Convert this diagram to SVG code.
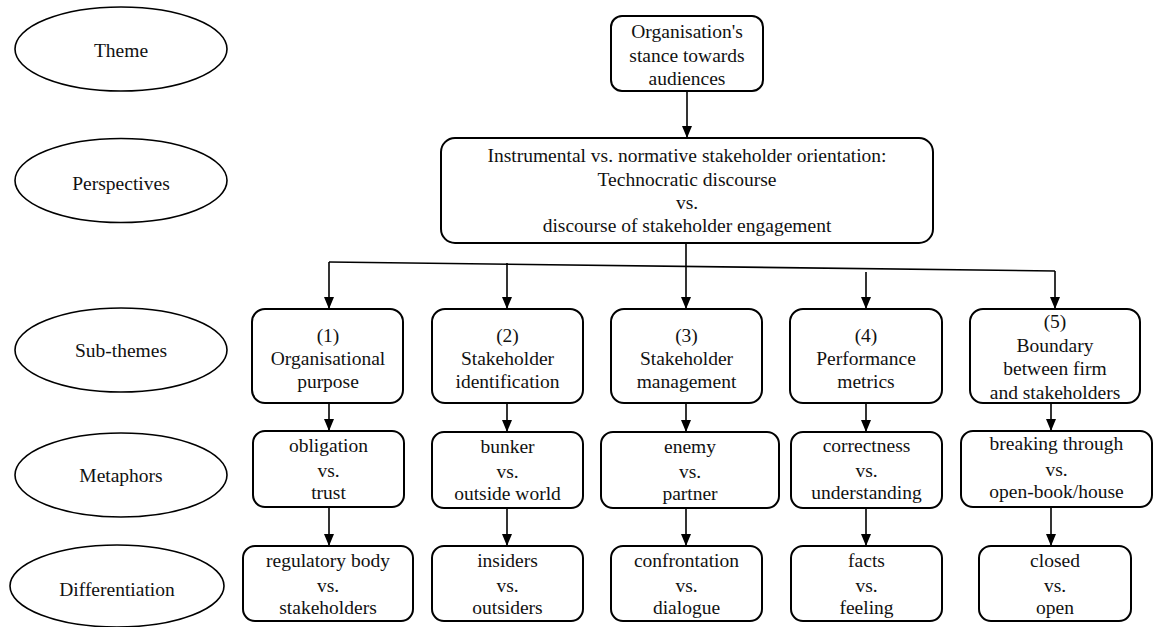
<svg xmlns="http://www.w3.org/2000/svg" width="1154" height="627" viewBox="0 0 1154 627">
  <defs>
    <marker id="arrow" markerUnits="userSpaceOnUse" markerWidth="12" markerHeight="10" refX="12" refY="5" orient="auto">
      <path d="M0,0 L12,5 L0,10 z" fill="#000"/>
    </marker>
    <style>
      text { font-family: 'Liberation Serif', 'DejaVu Serif', serif; font-size: 19.5px; fill: #111; text-anchor: middle; }
      .box { fill: #fff; stroke: #000; stroke-width: 2; }
      .lvl { fill: #fff; stroke: #000; stroke-width: 1.6; }
      .edge { fill: none; stroke: #000; stroke-width: 1.6; }
      .arr { fill: none; stroke: #000; stroke-width: 1.6; marker-end: url(#arrow); }
    </style>
  </defs>
  <rect width="1154" height="627" fill="#fff"/>

  <!-- level labels -->
  <g id="level-theme"><ellipse class="lvl" cx="121" cy="49" rx="106" ry="42"/><text x="121" y="57">Theme</text></g>
  <g id="level-perspectives"><ellipse class="lvl" cx="121" cy="180.5" rx="106" ry="42"/><text x="121" y="190">Perspectives</text></g>
  <g id="level-subthemes"><ellipse class="lvl" cx="121" cy="350" rx="106" ry="42"/><text x="121" y="357">Sub-themes</text></g>
  <g id="level-metaphors"><ellipse class="lvl" cx="121" cy="475" rx="106" ry="42"/><text x="121" y="482">Metaphors</text></g>
  <g id="level-differentiation"><ellipse class="lvl" cx="117" cy="586" rx="107" ry="41"/><text x="117" y="596">Differentiation</text></g>

  <!-- connectors -->
  <g id="connectors">
    <line class="arr" x1="687" y1="91" x2="687" y2="138"/>
    <polyline class="edge" points="329,262 1055,271"/>
    <line class="arr" x1="329" y1="262" x2="329" y2="309"/>
    <line class="arr" x1="507" y1="263" x2="507" y2="309"/>
    <line class="arr" x1="686" y1="243" x2="686" y2="309"/>
    <line class="arr" x1="866" y1="272" x2="866" y2="309"/>
    <line class="arr" x1="1055" y1="271" x2="1055" y2="309"/>

    <line class="arr" x1="329" y1="403" x2="329" y2="431"/>
    <line class="arr" x1="507" y1="403" x2="507" y2="432"/>
    <line class="arr" x1="686" y1="403" x2="686" y2="432"/>
    <line class="arr" x1="866" y1="403" x2="866" y2="432"/>
    <line class="arr" x1="1051" y1="403" x2="1051" y2="431"/>

    <line class="arr" x1="329" y1="507" x2="329" y2="546"/>
    <line class="arr" x1="507" y1="508" x2="507" y2="546"/>
    <line class="arr" x1="686" y1="508" x2="686" y2="546"/>
    <line class="arr" x1="866" y1="508" x2="866" y2="546"/>
    <line class="arr" x1="1051" y1="507" x2="1051" y2="546"/>
  </g>

  <!-- theme -->
  <g id="theme">
    <rect class="box" x="611" y="16" width="152" height="75" rx="11"/>
    <text x="687" y="38">Organisation's</text>
    <text x="687" y="62">stance towards</text>
    <text x="687" y="85">audiences</text>
  </g>

  <!-- perspectives -->
  <g id="perspectives">
    <rect class="box" x="441" y="138" width="492" height="105" rx="14"/>
    <text x="687" y="162">Instrumental vs. normative stakeholder orientation:</text>
    <text x="687" y="186">Technocratic discourse</text>
    <text x="687" y="209">vs.</text>
    <text x="687" y="232">discourse of stakeholder engagement</text>
  </g>

  <!-- sub-themes -->
  <g id="sub1">
    <rect class="box" x="252" y="309" width="151" height="94" rx="13"/>
    <text x="328" y="342">(1)</text>
    <text x="328" y="365">Organisational</text>
    <text x="328" y="388">purpose</text>
  </g>
  <g id="sub2">
    <rect class="box" x="432" y="309" width="151" height="94" rx="13"/>
    <text x="507.5" y="342">(2)</text>
    <text x="507.5" y="365">Stakeholder</text>
    <text x="507.5" y="388">identification</text>
  </g>
  <g id="sub3">
    <rect class="box" x="611" y="309" width="151" height="94" rx="13"/>
    <text x="686.5" y="342">(3)</text>
    <text x="686.5" y="365">Stakeholder</text>
    <text x="686.5" y="388">management</text>
  </g>
  <g id="sub4">
    <rect class="box" x="790" y="309" width="152" height="94" rx="13"/>
    <text x="866" y="342">(4)</text>
    <text x="866" y="365">Performance</text>
    <text x="866" y="388">metrics</text>
  </g>
  <g id="sub5">
    <rect class="box" x="970" y="309" width="170" height="94" rx="13"/>
    <text x="1055" y="328">(5)</text>
    <text x="1055" y="352">Boundary</text>
    <text x="1055" y="375">between firm</text>
    <text x="1055" y="399">and stakeholders</text>
  </g>

  <!-- metaphors -->
  <g id="met1">
    <rect class="box" x="253" y="431" width="151" height="76" rx="12"/>
    <text x="328.5" y="452">obligation</text>
    <text x="328.5" y="477">vs.</text>
    <text x="328.5" y="499">trust</text>
  </g>
  <g id="met2">
    <rect class="box" x="432" y="432" width="151" height="76" rx="12"/>
    <text x="507.5" y="453">bunker</text>
    <text x="507.5" y="478">vs.</text>
    <text x="507.5" y="500">outside world</text>
  </g>
  <g id="met3">
    <rect class="box" x="601" y="432" width="178" height="76" rx="12"/>
    <text x="690" y="453">enemy</text>
    <text x="690" y="478">vs.</text>
    <text x="690" y="500">partner</text>
  </g>
  <g id="met4">
    <rect class="box" x="791" y="432" width="151" height="76" rx="12"/>
    <text x="866.5" y="452">correctness</text>
    <text x="866.5" y="477">vs.</text>
    <text x="866.5" y="499">understanding</text>
  </g>
  <g id="met5">
    <rect class="box" x="961" y="431" width="191" height="76" rx="12"/>
    <text x="1056.5" y="450">breaking through</text>
    <text x="1056.5" y="476">vs.</text>
    <text x="1056.5" y="498">open-book/house</text>
  </g>

  <!-- differentiation -->
  <g id="diff1">
    <rect class="box" x="243" y="546" width="170" height="75" rx="12"/>
    <text x="328" y="567">regulatory body</text>
    <text x="328" y="592">vs.</text>
    <text x="328" y="614">stakeholders</text>
  </g>
  <g id="diff2">
    <rect class="box" x="432" y="546" width="151" height="75" rx="12"/>
    <text x="507.5" y="567">insiders</text>
    <text x="507.5" y="592">vs.</text>
    <text x="507.5" y="614">outsiders</text>
  </g>
  <g id="diff3">
    <rect class="box" x="611" y="546" width="151" height="75" rx="12"/>
    <text x="686.5" y="567">confrontation</text>
    <text x="686.5" y="592">vs.</text>
    <text x="686.5" y="614">dialogue</text>
  </g>
  <g id="diff4">
    <rect class="box" x="791" y="546" width="151" height="75" rx="12"/>
    <text x="866.5" y="567">facts</text>
    <text x="866.5" y="592">vs.</text>
    <text x="866.5" y="614">feeling</text>
  </g>
  <g id="diff5">
    <rect class="box" x="979" y="546" width="152" height="75" rx="12"/>
    <text x="1055" y="567">closed</text>
    <text x="1055" y="592">vs.</text>
    <text x="1055" y="614">open</text>
  </g>
</svg>
